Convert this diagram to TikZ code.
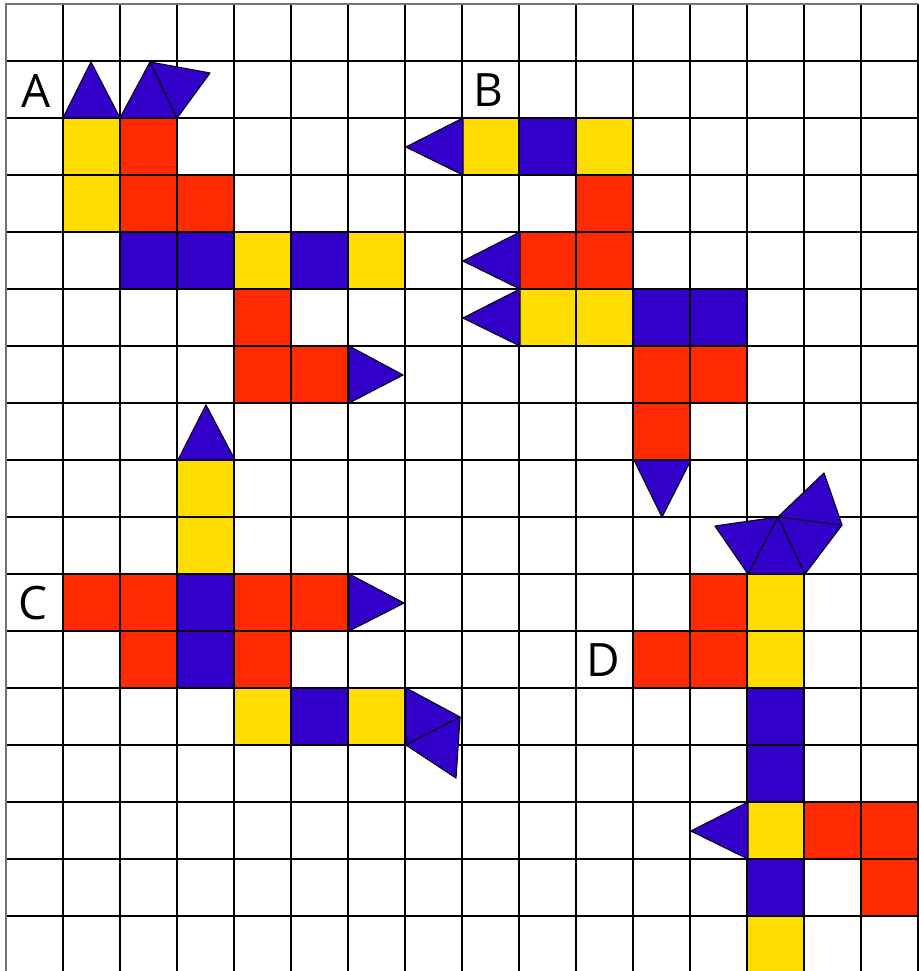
\documentclass[tikz,border=0pt]{standalone}
\usepackage{fontspec}
\setmainfont{Open Sans}
\definecolor{yel}{RGB}{255,221,0}
\definecolor{red2}{RGB}{255,42,0}
\definecolor{blu}{RGB}{50,0,200}
\tikzset{
  gridline/.style={line width=1.45pt,black},
  tri/.style={fill=blu,draw=black!80!blu,line width=0.6pt,line join=round},
  lab/.style={font=\fontsize{23}{23}\selectfont,inner sep=0pt}
}
\begin{document}
\begin{tikzpicture}[x=0.5pt,y=-0.5pt]
\useasboundingbox (0,0) rectangle (918,971);
\fill[white] (0,0) rectangle (918,971);
% cells
\foreach \c/\r in {1/2,1/3,4/4,6/4,8/2,10/2,9/5,10/5,3/8,3/9,4/12,6/12,13/10,13/11,13/14,13/16}
  \fill[yel] ({6+57*\c},{4+57*\r}) rectangle ++(57,57);
\foreach \c/\r in {2/2,2/3,3/3,4/5,4/6,5/6,10/3,9/4,10/4,11/6,12/6,11/7,1/10,2/10,4/10,5/10,2/11,4/11,12/10,11/11,12/11,14/14,15/14,15/15}
  \fill[red2] ({6+57*\c},{4+57*\r}) rectangle ++(57,57);
\foreach \c/\r in {2/4,3/4,5/4,9/2,11/5,12/5,3/10,3/11,5/12,13/12,13/13,13/15}
  \fill[blu] ({6+57*\c},{4+57*\r}) rectangle ++(57,57);
% grid
\foreach \k in {1,...,16} \draw[gridline] ({6+57*\k},4) -- ({6+57*\k},971);
\foreach \k in {1,...,16} \draw[gridline] (6,{4+57*\k}) -- (918,{4+57*\k});
\draw[line width=1.45pt,black!55] (6,971) -- (6,4) -- (918,4);
% triangles A
\draw[tri] (63,118) -- (120,118) -- (91,62) -- cycle;
\draw[tri] (120,118) -- (177,118) -- (150,62) -- cycle;
\draw[tri] (150,62) -- (177,118) -- (210,73) -- cycle;
\draw[tri] (349,346) -- (349,403) -- (403,375) -- cycle;
% triangles B
\draw[tri] (463,118) -- (463,175) -- (406,147) -- cycle;
\draw[tri] (520,232) -- (520,289) -- (463,261) -- cycle;
\draw[tri] (520,289) -- (520,346) -- (463,318) -- cycle;
\draw[tri] (634,460) -- (691,460) -- (662,517) -- cycle;
% triangles C
\draw[tri] (178,460) -- (235,460) -- (206,405) -- cycle;
\draw[tri] (349,574) -- (349,631) -- (404,603) -- cycle;
\draw[tri] (406,688) -- (406,745) -- (460,717) -- cycle;
\draw[tri] (406,745) -- (460,717) -- (456,778) -- cycle;
% triangles D
\draw[tri] (748,574) -- (805,574) -- (778,517) -- cycle;
\draw[tri] (748,574) -- (778,517) -- (715,526) -- cycle;
\draw[tri] (805,574) -- (778,517) -- (842,525) -- cycle;
\draw[tri] (778,517) -- (842,525) -- (824,473) -- cycle;
\draw[tri] (748,802) -- (748,859) -- (691,831) -- cycle;
% labels
\node[lab] (la) at (36,91) {A};
\node[lab] (lb) at (488,90) {B};
\node[lab] (lc) at (33,603) {C};
\node[lab] (ld) at (603,660) {D};
\end{tikzpicture}
\end{document}
